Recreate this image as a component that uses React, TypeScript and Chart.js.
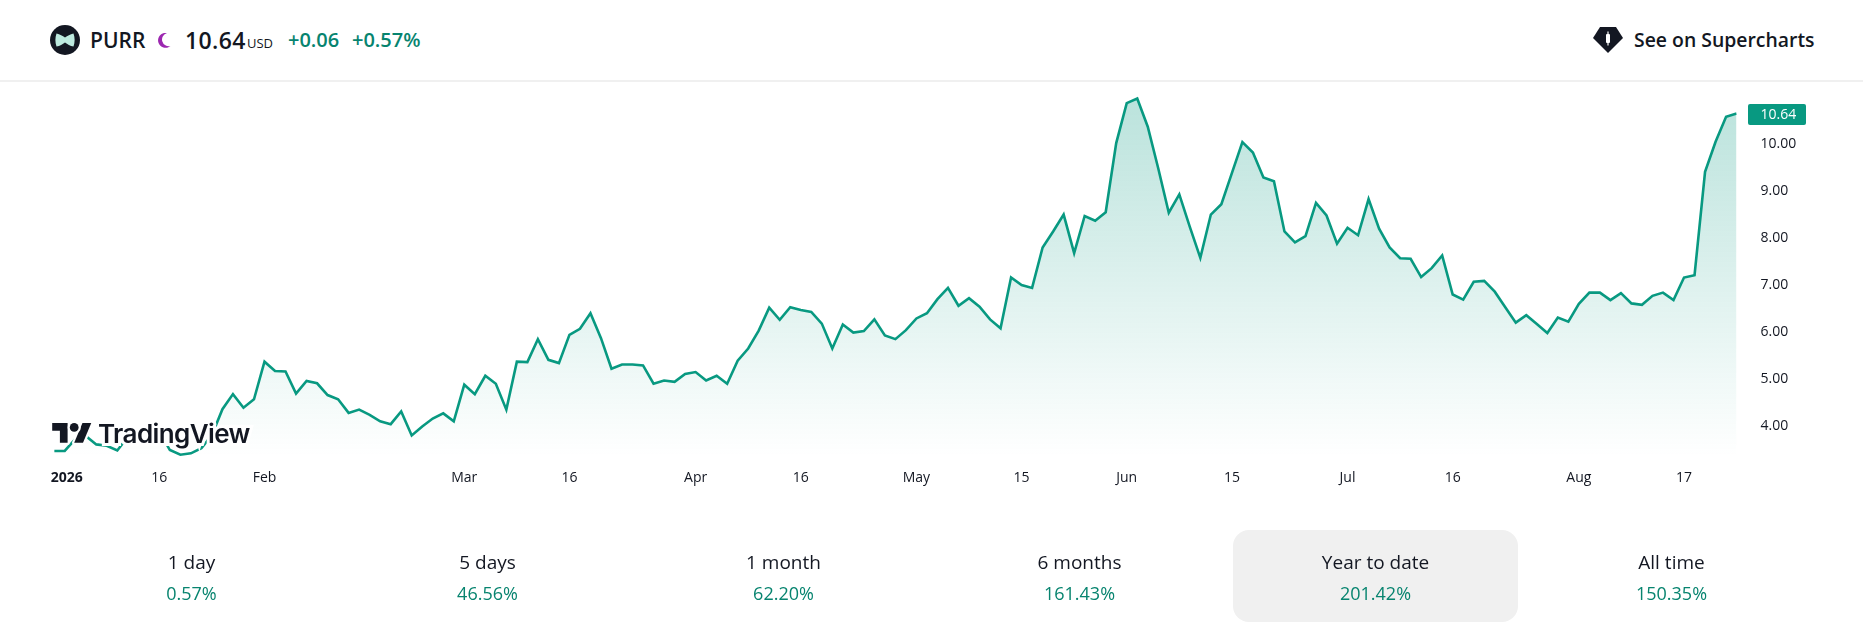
import React, { useEffect, useRef } from "react";
import { Chart, registerables } from "chart.js";

Chart.register(...registerables);

const prices: number[] = [
  3.46, 3.46, 3.71, 3.78, 3.60, 3.57, 3.47, 3.76, 3.87, 3.90,
  3.87, 3.48, 3.38, 3.41, 3.52, 3.80, 4.35, 4.67, 4.38, 4.56,
  5.36, 5.16, 5.15, 4.68, 4.95, 4.90, 4.65, 4.56, 4.27, 4.34,
  4.23, 4.09, 4.03, 4.30, 3.79, 3.98, 4.15, 4.26, 4.09, 4.87,
  4.67, 5.06, 4.89, 4.34, 5.36, 5.35, 5.84, 5.40, 5.33, 5.93,
  6.06, 6.39, 5.86, 5.21, 5.30, 5.30, 5.28, 4.89, 4.96, 4.93,
  5.10, 5.14, 4.96, 5.06, 4.89, 5.38, 5.64, 6.02, 6.51, 6.25,
  6.52, 6.46, 6.42, 6.17, 5.64, 6.15, 5.98, 6.01, 6.26, 5.92,
  5.84, 6.03, 6.28, 6.39, 6.69, 6.93, 6.55, 6.71, 6.53, 6.26,
  6.07, 7.15, 6.99, 6.93, 7.79, 8.13, 8.49, 7.67, 8.46, 8.36,
  8.54, 10.01, 10.86, 10.96, 10.36, 9.47, 8.53, 8.92, 8.23, 7.57,
  8.49, 8.71, 9.37, 10.03, 9.81, 9.28, 9.20, 8.13, 7.90, 8.03,
  8.74, 8.47, 7.87, 8.21, 8.05, 8.82, 8.19, 7.79, 7.56, 7.55,
  7.16, 7.35, 7.62, 6.79, 6.68, 7.06, 7.08, 6.85, 6.52, 6.19,
  6.35, 6.16, 5.97, 6.30, 6.21, 6.59, 6.83, 6.83, 6.67, 6.82,
  6.60, 6.57, 6.76, 6.83, 6.67, 7.15, 7.20, 9.40, 10.04, 10.57,
  10.64,
];

const xTickPositions = [1.2, 10, 20, 39, 49, 61, 71, 82, 92, 102, 112, 123, 133, 145, 155];
const xTickLabels = ["2026", "16", "Feb", "Mar", "16", "Apr", "16", "May", "15", "Jun", "15", "Jul", "16", "Aug", "17"];
const yTicks = [4, 5, 6, 7, 8, 9, 10];

const periods = ["1 day", "5 days", "1 month", "6 months", "Year to date", "All time"];
const periodReturns = ["0.57%", "46.56%", "62.20%", "161.43%", "201.42%", "150.35%"];
const periodCenters = [191.5, 487.5, 783.5, 1079.5, 1375.5, 1671.5];

const GREEN = "#089981";
const TEXT_GREEN = "#07846f";
const INK = "#131722";
const FONT = "'Open Sans', 'Noto Sans', sans-serif";

const priceTagPlugin = {
  id: "priceTag",
  afterDraw(chart: any) {
    const { ctx } = chart;
    const last = prices[prices.length - 1];
    const y = chart.scales.y.getPixelForValue(last);
    ctx.save();
    ctx.fillStyle = GREEN;
    ctx.beginPath();
    ctx.roundRect(1748, Math.round(y) - 10, 58, 21, 2);
    ctx.fill();
    ctx.fillStyle = "#ffffff";
    ctx.font = `14px ${FONT}`;
    ctx.textBaseline = "middle";
    ctx.textAlign = "left";
    ctx.fillText(last.toFixed(2), 1760.5, Math.round(y) + 1);
    ctx.restore();
  },
};

function abs(left: number, top: number, extra: React.CSSProperties = {}): React.CSSProperties {
  return { position: "absolute", left, top, whiteSpace: "nowrap", ...extra };
}

export default function App() {
  const ref = useRef<HTMLCanvasElement | null>(null);

  useEffect(() => {
    if (!ref.current) return;
    const chart = new Chart(ref.current, {
      type: "line",
      data: {
        datasets: [
          {
            data: prices.map((y, x) => ({ x, y })),
            borderColor: GREEN,
            borderWidth: 2.6,
            pointRadius: 0,
            tension: 0,
            fill: "start",
            borderJoinStyle: "miter",
            backgroundColor: (c: any) => {
              const g = c.chart.ctx.createLinearGradient(0, 97, 0, 457);
              g.addColorStop(0, "rgba(8,153,129,0.28)");
              g.addColorStop(1, "rgba(8,153,129,0)");
              return g;
            },
          },
        ],
      },
      options: {
        animation: false,
        responsive: false,
        layout: { padding: { left: 54.2, top: 80, right: 0, bottom: 0 } },
        plugins: { legend: { display: false }, tooltip: { enabled: false } },
        scales: {
          x: {
            type: "linear",
            min: 0,
            max: prices.length - 1,
            grid: { display: false, drawTicks: false },
            border: { display: false },
            afterBuildTicks: (s: any) => {
              s.ticks = xTickPositions.map((value) => ({ value }));
            },
            afterFit: (s: any) => {
              s.height = 175;
            },
            ticks: {
              autoSkip: false,
              maxRotation: 0,
              padding: 13,
              color: INK,
              font: (c: any) => ({
                family: FONT,
                size: 14,
                weight: c.index === 0 ? "700" : "400",
              }),
              callback: (v: any) => xTickLabels[xTickPositions.indexOf(v)] ?? "",
            },
          },
          y: {
            type: "linear",
            position: "right",
            min: 3.332,
            max: 11.353,
            grid: { display: false, drawTicks: false },
            border: { display: false },
            afterBuildTicks: (s: any) => {
              s.ticks = yTicks.map((value) => ({ value }));
            },
            afterFit: (s: any) => {
              s.width = 126.4;
            },
            ticks: {
              padding: 24,
              color: INK,
              font: { family: FONT, size: 14, lineHeight: 1.05 },
              callback: (v: any) => Number(v).toFixed(2),
            },
          },
        },
      },
      plugins: [priceTagPlugin],
    } as any);
    return () => chart.destroy();
  }, []);

  return (
    <div style={{ position: "relative", width: 1863, height: 632, overflow: "hidden", background: "#fff", fontFamily: FONT, color: INK }}>
      <style>{`html,body{margin:0;padding:0;background:#fff}`}</style>

      {/* header */}
      <div style={abs(0, 80, { width: 1863, height: 2, background: "#f0f0f0" })} />
      <svg style={abs(50, 25)} width="30" height="30" viewBox="0 0 30 30">
        <circle cx="15" cy="15" r="15" fill="#131722" />
        <path d="M6.5 8.5 C10 9 12.5 11 15 12.5 C17.5 11 20 9 23.5 8.5 C25 13 25 17 23.5 21.5 C20 21 17.5 19 15 17.5 C12.5 19 10 21 6.5 21.5 C5 17 5 13 6.5 8.5 Z" fill="#bdeadf" />
      </svg>
      <div style={abs(90, 24, { fontSize: 21, fontWeight: 600, lineHeight: "32px" })}>PURR</div>
      <svg style={abs(158, 33)} width="13" height="15" viewBox="0 0 13 15">
        <path d="M9 0 A7.5 7.5 0 1 0 12.5 13 A6.5 6.5 0 0 1 9 0 Z" fill="#9c27b0" />
      </svg>
      <div style={abs(185, 23, { fontSize: 23, fontWeight: 600, lineHeight: "34px", letterSpacing: 0.4 })}>10.64</div>
      <div style={abs(247, 34, { fontSize: 13, lineHeight: "18px" })}>USD</div>
      <div style={abs(288, 25, { fontSize: 20, fontWeight: 600, lineHeight: "30px", color: TEXT_GREEN })}>+0.06</div>
      <div style={abs(352, 25, { fontSize: 20, fontWeight: 600, lineHeight: "30px", color: TEXT_GREEN })}>+0.57%</div>
      <svg style={abs(1593, 27)} width="30" height="27" viewBox="0 0 30 27">
        <path d="M7 0 H23 L30 11 L15 26 L0 11 Z" fill="#131722" />
        <rect x="13" y="7" width="4" height="9" rx="1" fill="#fff" />
        <rect x="14.4" y="4.5" width="1.2" height="14" fill="#fff" />
      </svg>
      <div style={abs(1634, 25, { fontSize: 19.4, fontWeight: 600, lineHeight: "30px" })}>See on Supercharts</div>

      {/* chart */}
      <canvas ref={ref} width={1863} height={632} style={abs(0, 0, { display: "block", width: 1863, height: 632 })} />

      {/* watermark */}
      <svg style={abs(50, 420)} width="44" height="28" viewBox="-2 2 40 24">
        <g fill="#131722" stroke="#fff" strokeWidth="4" paintOrder="stroke" strokeLinejoin="round">
          <path d="M14 22H7V11H0V4h14v18z" />
          <path d="M28 22h-8l7.5-18h8L28 22z" />
          <circle cx="20" cy="8" r="4" />
        </g>
      </svg>
      <div style={abs(98, 416, { fontFamily: "Inter, 'Open Sans', sans-serif", fontSize: 26, fontWeight: 600, lineHeight: "36px", letterSpacing: -0.6, color: "#131722", WebkitTextStroke: "6px #fff", paintOrder: "stroke fill" } as React.CSSProperties)}>TradingView</div>

      {/* periods */}
      <div style={abs(1233, 530, { width: 285, height: 92, borderRadius: 16, background: "#f0f0f0" })} />
      {periods.map((p, i) => (
        <React.Fragment key={p}>
          <div style={abs(periodCenters[i] - 140, 549, { width: 280, textAlign: "center", fontSize: 19, lineHeight: "26px", color: INK })}>{p}</div>
          <div style={abs(periodCenters[i] - 140, 580, { width: 280, textAlign: "center", fontSize: 18, lineHeight: "26px", color: TEXT_GREEN })}>{periodReturns[i]}</div>
        </React.Fragment>
      ))}
    </div>
  );
}
